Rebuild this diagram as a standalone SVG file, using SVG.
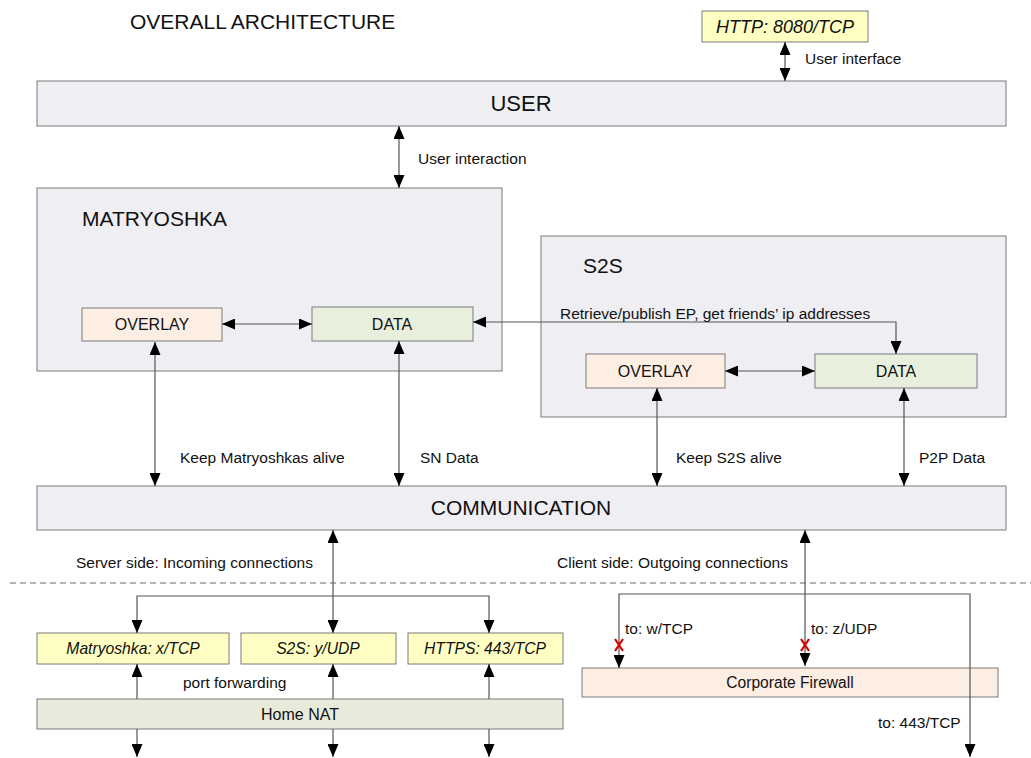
<svg xmlns="http://www.w3.org/2000/svg" width="1031" height="758" viewBox="0 0 1031 758">
<style>
text{font-family:"Liberation Sans",Arial,sans-serif;fill:#111}
.box{stroke:#7a7a7a;stroke-width:1}
.frame{fill:#efeef3}
.ov{fill:#fdeee4}
.dt{fill:#e9efdd}
.yl{fill:#ffffc4}
.nat{fill:#e8ebdb}
.lbl{font-size:15.5px}
.nl{font-size:16px;text-anchor:middle}
.big{font-size:21px}
.it{font-style:italic;font-size:15.7px;text-anchor:middle}
.ln{stroke:#555;stroke-width:1.2;fill:none}
.bi{marker-start:url(#ah);marker-end:url(#ah)}
.one{marker-end:url(#ah)}
.x{stroke:#d40000;stroke-width:2.2}
</style>
<defs>
<marker id="ah" viewBox="0 0 13 11" refX="13" refY="5.5" markerWidth="13" markerHeight="11" markerUnits="userSpaceOnUse" orient="auto-start-reverse">
<path d="M0,0 L13,5.5 L0,11 z" fill="#000"/>
</marker>
</defs>
<rect width="1031" height="758" fill="#fff"/>
<text x="130" y="29" class="big">OVERALL ARCHITECTURE</text>

<g id="http">
<rect class="box yl" x="702" y="11" width="166" height="31"/>
<text x="785" y="33" class="it" style="font-size:18px">HTTP: 8080/TCP</text>
</g>
<g id="user">
<rect class="box frame" x="37" y="81" width="969" height="45"/>
<text x="521" y="111" class="big" text-anchor="middle" style="font-size:22px">USER</text>
</g>
<g id="matryoshka">
<rect class="box frame" x="37" y="188" width="465" height="183"/>
<text x="82" y="226" class="big">MATRYOSHKA</text>
</g>
<g id="m-overlay">
<rect class="box ov" x="82" y="308" width="140" height="33"/>
<text x="152" y="330" class="nl">OVERLAY</text>
</g>
<g id="m-data">
<rect class="box dt" x="312" y="307" width="161" height="34"/>
<text x="392" y="330" class="nl">DATA</text>
</g>
<g id="s2s">
<rect class="box frame" x="541" y="236" width="465" height="181"/>
<text x="583" y="273" class="big">S2S</text>
</g>
<g id="s-overlay">
<rect class="box ov" x="586" y="354" width="139" height="34"/>
<text x="655" y="377" class="nl">OVERLAY</text>
</g>
<g id="s-data">
<rect class="box dt" x="815" y="354" width="162" height="34"/>
<text x="896" y="377" class="nl">DATA</text>
</g>
<g id="communication">
<rect class="box frame" x="37" y="486" width="969" height="44"/>
<text x="521" y="515" class="big" text-anchor="middle">COMMUNICATION</text>
</g>
<g id="p-matryoshka">
<rect class="box yl" x="37" y="633" width="192" height="31"/>
<text x="133" y="654" class="it">Matryoshka: x/TCP</text>
</g>
<g id="p-s2s">
<rect class="box yl" x="241" y="633" width="155" height="31"/>
<text x="318" y="654" class="it">S2S: y/UDP</text>
</g>
<g id="p-https">
<rect class="box yl" x="408" y="633" width="155" height="31"/>
<text x="485" y="654" class="it">HTTPS: 443/TCP</text>
</g>
<g id="home-nat">
<rect class="box nat" x="37" y="699" width="526" height="30"/>
<text x="300" y="720" class="nl">Home NAT</text>
</g>
<g id="firewall">
<rect class="box ov" x="582" y="668" width="416" height="29"/>
<text x="790" y="688" class="nl" style="font-size:15.6px">Corporate Firewall</text>
</g>

<g id="connectors">
<line class="ln bi" x1="785" y1="42" x2="785" y2="81"/>
<line class="ln bi" x1="399" y1="126" x2="399" y2="188"/>
<line class="ln bi" x1="222" y1="324" x2="312" y2="324"/>
<line class="ln bi" x1="725" y1="371" x2="815" y2="371"/>
<polyline class="ln bi" points="473,322 896,322 896,354"/>
<line class="ln bi" x1="155" y1="342" x2="155" y2="486"/>
<line class="ln bi" x1="399" y1="341" x2="399" y2="486"/>
<line class="ln bi" x1="657" y1="388" x2="657" y2="486"/>
<line class="ln bi" x1="904" y1="388" x2="904" y2="486"/>
<line class="ln bi" x1="333" y1="530" x2="333" y2="633"/>
<polyline class="ln one" points="333,596 137,596 137,633"/>
<polyline class="ln one" points="333,596 489,596 489,633"/>
<line class="ln one" x1="137" y1="699" x2="137" y2="664"/>
<line class="ln one" x1="333" y1="699" x2="333" y2="664"/>
<line class="ln one" x1="489" y1="699" x2="489" y2="664"/>
<line class="ln one" x1="137" y1="729" x2="137" y2="757"/>
<line class="ln one" x1="333" y1="729" x2="333" y2="757"/>
<line class="ln one" x1="489" y1="729" x2="489" y2="757"/>
<line class="ln bi" x1="805" y1="530" x2="805" y2="666"/>
<polyline class="ln one" points="805,594 619,594 619,668"/>
<polyline class="ln one" points="805,594 970,594 970,757"/>
<line x1="10" y1="583" x2="1031" y2="583" stroke="#666" stroke-width="1" stroke-dasharray="6,4"/>
<path class="x" d="M615,639 L623,651 M623,639 L615,651"/>
<path class="x" d="M801,639 L809,651 M809,639 L801,651"/>
</g>

<text x="805" y="64" class="lbl">User interface</text>
<text x="418" y="164" class="lbl">User interaction</text>
<text x="560" y="319" class="lbl">Retrieve/publish EP, get friends’ ip addresses</text>
<text x="180" y="463" class="lbl">Keep Matryoshkas alive</text>
<text x="420" y="463" class="lbl">SN Data</text>
<text x="676" y="463" class="lbl">Keep S2S alive</text>
<text x="919" y="463" class="lbl">P2P Data</text>
<text x="76" y="568" class="lbl">Server side: Incoming connections</text>
<text x="557" y="568" class="lbl">Client side: Outgoing connections</text>
<text x="625" y="634" class="lbl">to: w/TCP</text>
<text x="811" y="634" class="lbl">to: z/UDP</text>
<text x="183" y="688" class="lbl">port forwarding</text>
<text x="878" y="728" class="lbl">to: 443/TCP</text>
</svg>
